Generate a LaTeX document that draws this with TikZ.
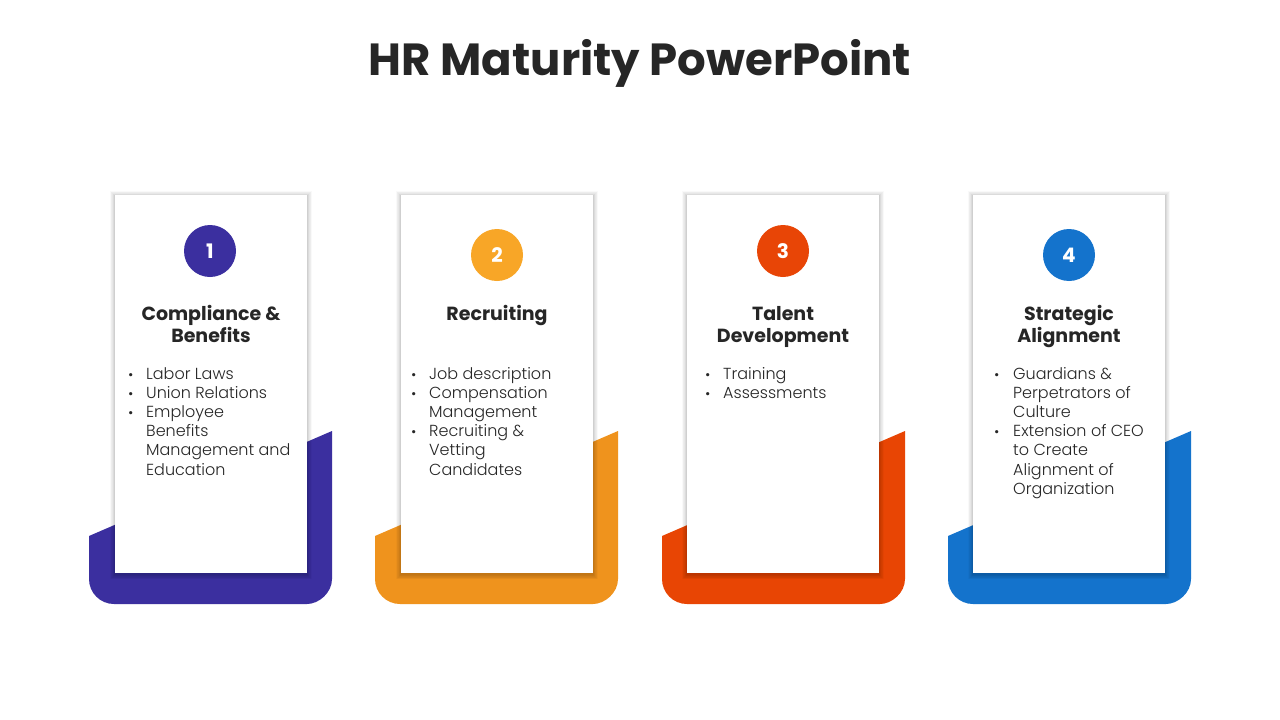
\documentclass[tikz,border=0pt]{standalone}
\usepackage{fontspec}
\setmainfont{Poppins}
\newfontfamily\lightfont{Poppins}[UprightFont=* Light]
\definecolor{ink}{HTML}{262626}
\definecolor{bandA}{HTML}{3B2F9F}
\definecolor{bandB}{HTML}{EF931D}
\definecolor{bandC}{HTML}{E84504}
\definecolor{bandD}{HTML}{1473CC}
\definecolor{numA}{HTML}{3B2F9F}
\definecolor{numB}{HTML}{F8A627}
\definecolor{numC}{HTML}{E84506}
\definecolor{numD}{HTML}{1473CC}
\tikzset{
  cardbox/.style={fill=white, inner sep=0pt, minimum width=192pt, minimum height=378pt},
  numdot/.style={circle, fill=#1, minimum size=52pt, inner sep=0pt, text=white,
    font=\fontsize{20}{24}\selectfont\bfseries},
  head/.style={font=\fontsize{19}{22}\selectfont\bfseries, text=ink, anchor=base, inner sep=0pt},
  itemtext/.style={font=\fontsize{16}{19}\lightfont, text=ink, anchor=base west, inner sep=0pt},
  bul/.style={font=\fontsize{13}{15}\selectfont, text=ink, anchor=base west, inner sep=0pt},
}
\newcommand\bandshape[2]{% #1 left x, #2 color
  \fill[#2] (#1,536) -- ({#1+243},431) -- ({#1+243},579)
    .. controls ({#1+243},592.8) and ({#1+229.8},604) .. ({#1+218},604)
    -- ({#1+25},604)
    .. controls ({#1+11.2},604) and (#1,592.8) .. (#1,579) -- cycle;}
\newcommand\softshadow[1]{% #1 left x of card
  \foreach \k in {1,...,8}
    \fill[black, opacity=0.022] ({#1-\k*0.6},{195-\k*0.6+1}) rectangle ({#1+192+\k*0.6},{573+\k*0.6+1.5});}
\begin{document}
\begin{tikzpicture}[x=1pt,y=-1pt]
\useasboundingbox (0,0) rectangle (1280,720);
\fill[white] (0,0) rectangle (1280,720);

\node[font=\fontsize{45}{52}\selectfont\bfseries, text=ink, anchor=base, inner sep=0pt] (title) at (640,75) {HR Maturity PowerPoint};

% ---- card 1
\bandshape{89}{bandA}
\softshadow{115}
\node[cardbox] (card1) at (211,384) {};
\node[numdot=numA] (n1) at (210,251) {1};
\node[head] (h1a) at (211,320) {Compliance \&};
\node[head] (h1b) at (211,342) {Benefits};
\foreach \t [count=\i] in {Labor Laws, Union Relations, Employee, Benefits, Management and, Education}
  \node[itemtext] (t1-\i) at (146,{379+19.2*(\i-1)}) {\t};
\foreach \i in {1,2,3}
  \node[bul] (b1-\i) at (128,{379+19.2*(\i-1)}) {•};

% ---- card 2
\bandshape{375}{bandB}
\softshadow{401}
\node[cardbox] (card2) at (497,384) {};
\node[numdot=numB] (n2) at (497,255) {2};
\node[head] (h2a) at (497,320) {Recruiting};
\foreach \t [count=\i] in {Job description, Compensation, Management, Recruiting \&, Vetting, Candidates}
  \node[itemtext] (t2-\i) at (429,{379+19.2*(\i-1)}) {\t};
\foreach \i in {1,2,4}
  \node[bul] (b2-\i) at (411,{379+19.2*(\i-1)}) {•};

% ---- card 3
\bandshape{662}{bandC}
\softshadow{687}
\node[cardbox] (card3) at (783,384) {};
\node[numdot=numC] (n3) at (783,251) {3};
\node[head] (h3a) at (783,320) {Talent};
\node[head] (h3b) at (783,342) {Development};
\foreach \t [count=\i] in {Training, Assessments}
  \node[itemtext] (t3-\i) at (723,{379+19.2*(\i-1)}) {\t};
\foreach \i in {1,2}
  \node[bul] (b3-\i) at (705,{379+19.2*(\i-1)}) {•};

% ---- card 4
\bandshape{948}{bandD}
\softshadow{973}
\node[cardbox] (card4) at (1069,384) {};
\node[numdot=numD] (n4) at (1069,255) {4};
\node[head] (h4a) at (1069,320) {Strategic};
\node[head] (h4b) at (1069,342) {Alignment};
\foreach \t [count=\i] in {Guardians \&, Perpetrators of, Culture, Extension of CEO, to Create, Alignment of, Organization}
  \node[itemtext] (t4-\i) at (1013,{379+19.2*(\i-1)}) {\t};
\foreach \i in {1,4}
  \node[bul] (b4-\i) at (994,{379+19.2*(\i-1)}) {•};
\end{tikzpicture}
\end{document}
